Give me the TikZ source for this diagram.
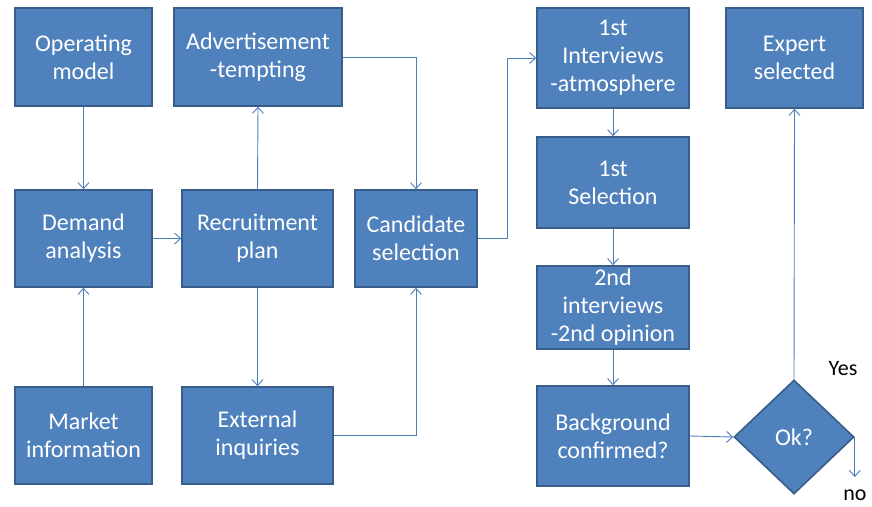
\documentclass[tikz,border=0pt]{standalone}
\usepackage{fontspec}
\setmainfont{Carlito}
\usetikzlibrary{shapes.geometric,arrows.meta}
\definecolor{boxfill}{HTML}{4F81BD}
\definecolor{boxline}{HTML}{385D8A}
\definecolor{conn}{HTML}{4A7EBB}
\tikzset{
  box/.style={draw=boxline, fill=boxfill, line width=1.6pt, text=white, align=center,
    inner sep=0pt, font=\fontsize{24}{28}\selectfont},
  dia/.style={diamond, draw=boxline, fill=boxfill, line width=1.6pt, text=white,
    inner sep=0pt, aspect=1.05, minimum width=120pt, minimum height=114pt,
    font=\fontsize{24}{28}\selectfont},
  conn/.style={draw=conn, line width=0.9pt},
  arr/.style={conn, -{Straight Barb[length=6pt,width=11pt]}},
  lbl/.style={text=black, font=\fontsize{22}{26}\selectfont, inner sep=0pt}
}
\begin{document}
\begin{tikzpicture}[x=1pt,y=-1pt]
\useasboundingbox (0,0) rectangle (872,506);
\node[box, minimum width=137pt, minimum height=98pt] (op) at (83.5,57) {Operating\\model};
\node[box, minimum width=168pt, minimum height=98pt] (adv) at (258,57) {Advertisement\\-tempting};
\node[box, minimum width=137pt, minimum height=97pt] (dem) at (83.5,238.5) {Demand\\analysis};
\node[box, minimum width=151pt, minimum height=97pt] (rec) at (257.5,238.5) {Recruitment\\plan};
\node[box, minimum width=122pt, minimum height=97pt] (cand) at (416,238.5) {Candidate\\selection};
\node[box, minimum width=137pt, minimum height=97pt] (mkt) at (83.5,435.5) {Market\\information};
\node[box, minimum width=151pt, minimum height=97pt] (ext) at (257.5,435.5) {External\\inquiries};
\node[box, minimum width=152pt, minimum height=100pt] (int1) at (613,58) {1st\\Interviews\\-atmosphere};
\node[box, minimum width=152pt, minimum height=91pt] (sel1) at (613,182.5) {1st\\Selection};
\node[box, minimum width=152pt, minimum height=83pt] (int2) at (613,307.5) {2nd\\interviews\\-2nd opinion};
\node[box, minimum width=152pt, minimum height=100pt] (bg) at (613,436) {Background\\confirmed?};
\node[box, minimum width=137pt, minimum height=100pt] (exp) at (794.5,58) {Expert\\selected};
\node[dia] (ok) at (794,437) {Ok?};
\node[lbl] (yes) at (843,369) {Yes};
\node[lbl] (no) at (855,495) {no};
\coordinate (cj) at (507,238.5);
\coordinate (noend) at (ok.east |- 0,477);

\draw[arr] (op.south) -- (dem.north);
\draw[arr] (mkt.north) -- (dem.south);
\draw[arr] (dem.east) -- (rec.west);
\draw[arr] (rec.north) -- (adv.south);
\draw[arr] (rec.south) -- (ext.north);
\draw[arr] (adv.east) -| (cand.north);
\draw[arr] (ext.east) -| (cand.south);
\draw[arr] (cand.east) -- (cj) |- (int1.west);
\draw[arr] (int1.south) -- (sel1.north);
\draw[arr] (sel1.south) -- (int2.north);
\draw[arr] (int2.south) -- (bg.north);
\draw[arr] (bg.east) -- (ok.west);
\draw[arr] (ok.north) -- (exp.south);
\draw[arr] (ok.east) -- (noend);
\end{tikzpicture}
\end{document}
